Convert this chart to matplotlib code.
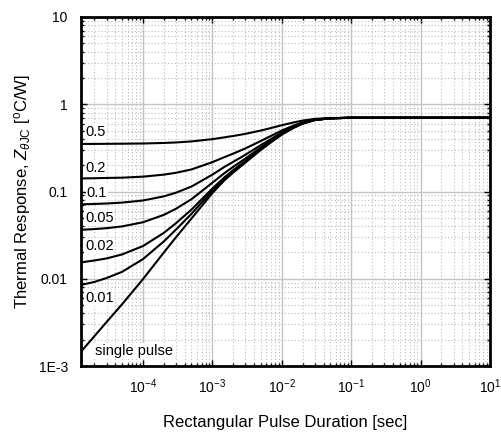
import matplotlib
matplotlib.use("Agg")
import matplotlib.pyplot as plt
from matplotlib.ticker import LogLocator, FixedLocator, FixedFormatter, NullFormatter

plt.rcParams['font.family'] = ['Liberation Sans', 'DejaVu Sans']
plt.rcParams['mathtext.fontset'] = 'custom'
plt.rcParams['mathtext.rm'] = 'Liberation Sans'
plt.rcParams['mathtext.it'] = 'Liberation Sans:italic'

######  data  ######

# pulse duration [sec]
t = [1.28e-5, 2e-5, 3e-5, 5e-5, 1e-4, 2e-4, 3e-4, 5e-4, 1e-3, 1.5e-3, 2e-3,
     3e-3, 5e-3, 7e-3, 1e-2, 1.5e-2, 2e-2, 3e-2, 5e-2, 1e-1, 10]

# thermal response [C/W], one list per duty cycle
z_05 = [0.351, 0.351, 0.352, 0.353, 0.355, 0.360, 0.365, 0.375, 0.398, 0.418,
        0.433, 0.458, 0.50, 0.534, 0.575, 0.62, 0.65, 0.68, 0.695, 0.70, 0.70]
z_02 = [0.141, 0.142, 0.143, 0.144, 0.148, 0.156, 0.164, 0.179, 0.217, 0.248,
        0.272, 0.312, 0.38, 0.434, 0.50, 0.572, 0.62, 0.67, 0.69, 0.70, 0.70]
z_01 = [0.0713, 0.0720, 0.0729, 0.0746, 0.0789, 0.088, 0.097, 0.114, 0.156,
        0.192, 0.219, 0.264, 0.34, 0.400, 0.475, 0.556, 0.61, 0.664, 0.691,
        0.70, 0.70]
z_005 = [0.0364, 0.0371, 0.0380, 0.0398, 0.0444, 0.054, 0.0635, 0.0816, 0.126,
         0.163, 0.192, 0.239, 0.32, 0.384, 0.463, 0.548, 0.605, 0.662, 0.69,
         0.70, 0.70]
z_002 = [0.0154, 0.0162, 0.0171, 0.019, 0.0237, 0.0336, 0.0434, 0.062, 0.108,
         0.146, 0.176, 0.225, 0.308, 0.374, 0.455, 0.543, 0.602, 0.661, 0.69,
         0.70, 0.70]
z_001 = [0.0085, 0.0092, 0.0102, 0.0120, 0.0168, 0.0268, 0.0367, 0.0555, 0.102,
         0.141, 0.170, 0.220, 0.304, 0.370, 0.452, 0.542, 0.601, 0.66, 0.69,
         0.70, 0.70]
z_single = [0.00146, 0.0022, 0.0032, 0.0051, 0.0099, 0.020, 0.030, 0.049, 0.096,
            0.135, 0.165, 0.215, 0.30, 0.367, 0.45, 0.54, 0.60, 0.66, 0.69,
            0.70, 0.70]

curves = [z_05, z_02, z_01, z_005, z_002, z_001, z_single]
labels = ["0.5", "0.2", "0.1", "0.05", "0.02", "0.01", "single pulse"]
# where each label sits (pulse duration, response)
label_pos = [(1.5e-5, 0.48), (1.5e-5, 0.186), (1.55e-5, 0.096), (1.46e-5, 0.0497),
             (1.46e-5, 0.0237), (1.46e-5, 0.0060), (2.03e-5, 0.00149)]

y_ticks = [1e-3, 1e-2, 1e-1, 1, 10]
y_tick_labels = ["1E-3", "0.01", "0.1", "1", "10"]
x_ticks = [1e-4, 1e-3, 1e-2, 1e-1, 1, 10]
x_tick_labels = [r"$10^{-4}$", r"$10^{-3}$", r"$10^{-2}$", r"$10^{-1}$",
                 r"$10^{0}$", r"$10^{1}$"]

######  figure  ######

fig = plt.figure(figsize=(5.01, 4.33), dpi=100)
ax = fig.add_axes([81 / 501, 1 - 366 / 433, 409 / 501, 349 / 433])

for z in curves:
    ax.plot(t, z, color="black", lw=1.5, solid_capstyle="butt", zorder=3)

for lab, (lx, ly) in zip(labels, label_pos):
    ax.text(lx, ly, lab, fontsize=10.5, ha="left", va="center", zorder=4,
            bbox=dict(facecolor="white", edgecolor="none", pad=0.6))

ax.set_xscale("log")
ax.set_yscale("log")
ax.set_xlim(1.28e-5, 10)
ax.set_ylim(1e-3, 10)

ax.xaxis.set_major_locator(FixedLocator(x_ticks))
ax.xaxis.set_major_formatter(FixedFormatter(x_tick_labels))
ax.yaxis.set_major_locator(FixedLocator(y_ticks))
ax.yaxis.set_major_formatter(FixedFormatter(y_tick_labels))
ax.xaxis.set_minor_locator(LogLocator(base=10, subs=range(2, 10), numticks=20))
ax.yaxis.set_minor_locator(LogLocator(base=10, subs=range(2, 10), numticks=20))
ax.xaxis.set_minor_formatter(NullFormatter())
ax.yaxis.set_minor_formatter(NullFormatter())

ax.grid(which="major", color="#c4c4c4", lw=1.0, ls="-", zorder=1)
ax.grid(which="minor", color="#bcbcbc", lw=0.8, ls=(0, (1, 2)), zorder=1)
ax.set_axisbelow(True)

ax.tick_params(which="both", direction="in", top=True, right=True, width=1,
               colors="black")
ax.tick_params(which="major", length=4, labelsize=10)
ax.tick_params(which="minor", length=2)
ax.tick_params(axis="y", which="major", pad=9.5)
ax.tick_params(axis="x", which="major", pad=8)

for sp in ax.spines.values():
    sp.set_linewidth(2)
    sp.set_color("black")

ax.set_xlabel("Rectangular Pulse Duration [sec]", fontsize=12, labelpad=14)
ax.set_ylabel(r"Thermal Response, $Z_{\theta\mathrm{JC}}$ [$^{\mathrm{o}}$C/W]",
              fontsize=12, labelpad=4)

fig.savefig("out.png", dpi=100)
